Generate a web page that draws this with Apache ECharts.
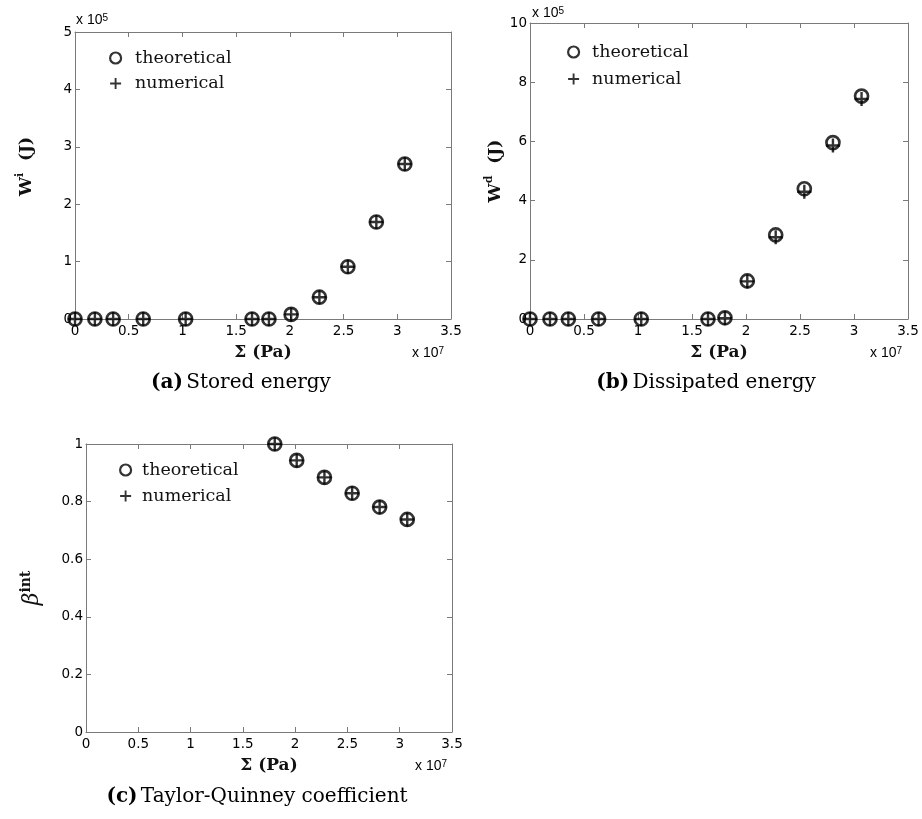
<!DOCTYPE html>
<html><head><meta charset="utf-8">
<script src="https://cdn.jsdelivr.net/npm/echarts@6/dist/echarts.min.js"></script>
<style>html,body{margin:0;padding:0;background:#fff}#c{width:922px;height:819px}</style>
</head><body><div id="c"></div>
<script>
// Σ (Pa), in units of 1e7
const sigmaAB = [0, 0.185, 0.355, 0.635, 1.03, 1.648, 1.805, 2.012, 2.275, 2.54, 2.805, 3.07];
// Stored energy W^i (J), in units of 1e5
const storedTheo = [0, 0, 0, 0, 0, 0, 0, 0.08, 0.38, 0.91, 1.69, 2.70];
const storedNum  = [0, 0, 0, 0, 0, 0, 0, 0.08, 0.38, 0.91, 1.69, 2.70];
// Dissipated energy W^d (J), in units of 1e5
const dissTheo = [0, 0, 0, 0, 0, 0, 0.04, 1.285, 2.84, 4.40, 5.96, 7.53];
const dissNum  = [0, 0, 0, 0, 0, 0, 0.03, 1.27, 2.76, 4.30, 5.86, 7.43];
// Taylor-Quinney coefficient
const sigmaC = [1.805, 2.015, 2.28, 2.545, 2.808, 3.072];
const betaTheo = [1.0, 0.943, 0.884, 0.829, 0.781, 0.738];
const betaNum  = [1.0, 0.943, 0.884, 0.829, 0.781, 0.738];
// axis ranges
const xRange = {min: 0, max: 3.5, interval: 0.5};
const yRanges = [{min: 0, max: 5, interval: 1}, {min: 0, max: 10, interval: 2}, {min: 0, max: 1, interval: 0.2}];
const legendNames = ['theoretical', 'numerical'];
const captions = [['(a)', 'Stored energy'], ['(b)', 'Dissipated energy'], ['(c)', 'Taylor-Quinney coefficient']];

const PLUS = 'path://M5.8,0 L8.2,0 L8.2,5.8 L14,5.8 L14,8.2 L8.2,8.2 L8.2,14 L5.8,14 L5.8,8.2 L0,8.2 L0,5.8 L5.8,5.8 Z';
const AX = '#7a7a7a';
const SANS = 'DejaVu Sans';
const SERIF = 'DejaVu Serif';

const grids = [
  {left: 75, top: 32, width: 376, height: 287},
  {left: 530, top: 23, width: 378, height: 296},
  {left: 86, top: 444, width: 366, height: 288}
].map(g => Object.assign({outerBoundsMode: 'none', containLabel: false}, g));

const tickLabel = {color: '#000', fontFamily: SANS, fontSize: 13.5};

const xAxes = [], yAxes = [];
const yNames = [
  {name: '{b|W}{s|i}{b|  (J)}', gap: 40, pad: [0, 0, 0, 18]},
  {name: '{b|W}{s|d}{b|  (J)}', gap: 26, pad: [0, 0, 0, 0]},
  {name: '{g|β}{t|int}', gap: 43, pad: [0, 0, 0, 0]}
];
for (let i = 0; i < 3; i++) {
  const common = {type: 'value', gridIndex: i, splitLine: {show: false},
    axisLine: {show: true, onZero: false, lineStyle: {color: AX, width: 1}},
    axisTick: {show: true, inside: true, length: 5, lineStyle: {color: AX}}};
  xAxes.push(Object.assign({}, common, xRange, {
    position: 'bottom',
    axisLabel: Object.assign({margin: 5, showMinLabel: true, showMaxLabel: true}, tickLabel),
    name: 'Σ (Pa)', nameLocation: 'middle', nameGap: 25,
    nameTextStyle: {fontFamily: SERIF, fontWeight: 'bold', fontSize: 17, color: '#111'}
  }));
  xAxes.push(Object.assign({}, common, xRange, {position: 'top', axisLabel: {show: false}}));
  yAxes.push(Object.assign({}, common, yRanges[i], {
    position: 'left',
    axisLabel: Object.assign({margin: 3, showMinLabel: true, showMaxLabel: true}, tickLabel),
    name: yNames[i].name, nameLocation: 'middle', nameGap: yNames[i].gap, nameRotate: 90,
    nameTextStyle: {
      padding: yNames[i].pad,
      rich: {
        b: {fontFamily: SERIF, fontWeight: 'bold', fontSize: 17, color: '#111', lineHeight: 20, verticalAlign: 'bottom'},
        s: {fontFamily: SERIF, fontWeight: 'bold', fontSize: 11, color: '#111', lineHeight: 11, verticalAlign: 'top'},
        g: {fontFamily: SERIF, fontStyle: 'italic', fontSize: 22, color: '#111', lineHeight: 24, verticalAlign: 'bottom'},
        t: {fontFamily: SERIF, fontWeight: 'bold', fontSize: 14, color: '#111', lineHeight: 14, verticalAlign: 'top'}
      }
    }
  }));
  yAxes.push(Object.assign({}, common, yRanges[i], {position: 'right', axisLabel: {show: false}}));
}

function sc(name, idx, xs, ys, isPlus) {
  return {
    type: 'scatter', name: name, xAxisIndex: idx * 2, yAxisIndex: idx * 2, clip: false,
    symbol: isPlus ? PLUS : 'circle', symbolSize: isPlus ? 14 : 13,
    itemStyle: isPlus ? {color: '#000', borderWidth: 0}
                      : {color: 'rgba(0,0,0,0)', borderColor: '#000', borderWidth: 2.7},
    emphasis: {disabled: true},
    data: xs.map((x, k) => [x, ys[k]])
  };
}
const series = [
  sc(legendNames[0], 0, sigmaAB, storedTheo, false),
  sc(legendNames[1], 0, sigmaAB, storedNum, true),
  sc(legendNames[0], 1, sigmaAB, dissTheo, false),
  sc(legendNames[1], 1, sigmaAB, dissNum, true),
  sc(legendNames[0], 2, sigmaC, betaTheo, false),
  sc(legendNames[1], 2, sigmaC, betaNum, true)
];

const legendPos = [
  {left: 109, top: 49, itemGap: 7.5, pad: 9},
  {left: 567, top: 43, itemGap: 9, pad: 8},
  {left: 119, top: 461, itemGap: 8, pad: 6}
];
const legends = legendPos.map(p => ({
  show: true, orient: 'vertical', padding: 0, itemWidth: 11, itemHeight: 11, selectedMode: false,
  left: p.left, top: p.top, itemGap: p.itemGap,
  textStyle: {fontFamily: SERIF, fontSize: 17.5, color: '#111', lineHeight: 18, padding: [0, 0, 0, p.pad]},
  data: [
    {name: legendNames[0], icon: 'circle', itemStyle: {color: 'rgba(0,0,0,0)', borderColor: '#000', borderWidth: 2.2}},
    {name: legendNames[1], icon: PLUS, itemStyle: {color: '#000', borderWidth: 0}}
  ]
}));

const expRich = {
  n: {fontFamily: 'Liberation Sans', fontSize: 14, color: '#111', lineHeight: 14, verticalAlign: 'bottom'},
  s: {fontFamily: 'Liberation Sans', fontSize: 10, color: '#111', lineHeight: 10, verticalAlign: 'top'}
};
function expText(x, y, e) {
  return {type: 'text', x: x, y: y, silent: true,
    style: {text: '{n|x 10}{s|' + e + '}', rich: expRich, align: 'left', verticalAlign: 'middle'}};
}
const capRich = {
  b: {fontFamily: SERIF, fontWeight: 'bold', fontSize: 20, color: '#111'},
  r: {fontFamily: SERIF, fontSize: 20, color: '#111'}
};
function capText(x, y, c) {
  return {type: 'text', x: x, y: y, silent: true,
    style: {text: '{b|' + c[0] + '} {r|' + c[1] + '}', rich: capRich, align: 'center', verticalAlign: 'middle'}};
}
const graphics = [
  expText(76, 20, 5), expText(532, 13, 5),
  expText(412, 353, 7), expText(870, 353, 7), expText(415, 766, 7),
  capText(241, 383, captions[0]), capText(706, 383, captions[1]), capText(257, 797, captions[2])
];

const chart = echarts.init(document.getElementById('c'), null, {renderer: 'canvas'});
chart.setOption({
  animation: false,
  backgroundColor: '#fff',
  grid: grids,
  xAxis: xAxes,
  yAxis: yAxes,
  legend: legends,
  series: series,
  graphic: graphics
});
</script>
</body></html>
